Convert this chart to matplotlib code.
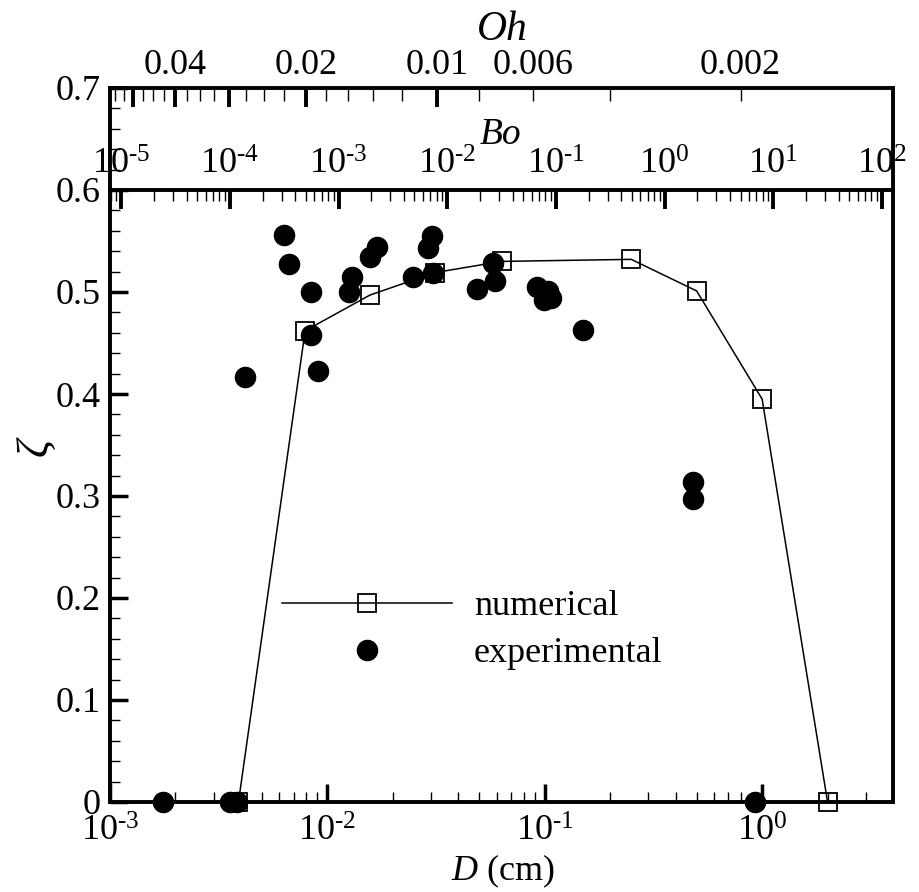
import matplotlib

matplotlib.use("Agg")
import matplotlib.pyplot as plt  # noqa: E402
import numpy as np  # noqa: E402
from matplotlib.ticker import (  # noqa: E402
    FixedFormatter,
    FixedLocator,
    FuncFormatter,
    LogLocator,
    MultipleLocator,
    NullFormatter,
)

plt.rcParams["font.family"] = ["Liberation Serif", "DejaVu Serif"]
plt.rcParams["mathtext.fontset"] = "custom"
plt.rcParams["mathtext.rm"] = "Liberation Serif"
plt.rcParams["mathtext.it"] = "Liberation Serif:italic"

# numerical (squares + line)
d_num = [0.0039, 0.0079, 0.0157, 0.0312, 0.0634, 0.25, 0.5, 1.0, 2.0]
zeta_num = [0.0, 0.462, 0.497, 0.519, 0.530, 0.532, 0.501, 0.395, 0.0]

# experimental (filled circles)
d_exp = [0.00631, 0.00665, 0.00839, 0.00839, 0.00903, 0.00418, 0.0130, 0.0126,
         0.0169, 0.0157, 0.0302, 0.0290, 0.0247, 0.0305, 0.0577, 0.0589, 0.0486,
         0.0918, 0.1033, 0.0990, 0.1066, 0.1497, 0.479, 0.479,
         0.00175, 0.00356, 0.00384, 0.925]
zeta_exp = [0.556, 0.527, 0.500, 0.458, 0.423, 0.417, 0.515, 0.500,
            0.544, 0.534, 0.555, 0.543, 0.515, 0.519, 0.528, 0.511, 0.503,
            0.505, 0.501, 0.492, 0.494, 0.463, 0.314, 0.297,
            0.0, 0.0, 0.0, 0.0]

# D range and the conversions used for the Bo / Oh axes
D_MIN, D_MAX = 1e-3, 4.0
BO_PER_D2 = 7.9        # Bo = k * D^2
OH_SQRT_D = 0.001785   # Oh = c / sqrt(D)

d_major = [1e-3, 1e-2, 1e-1, 1e0]
bo_major = [1e-5, 1e-4, 1e-3, 1e-2, 1e-1, 1e0, 1e1, 1e2]
oh_major = [0.05, 0.04, 0.03, 0.02, 0.01]
oh_major_labels = ["", "0.04", "", "0.02", "0.01"]
oh_minor = [0.055, 0.0525, 0.0475, 0.045, 0.0425, 0.0375, 0.035, 0.0325,
            0.0275, 0.025, 0.0225, 0.018, 0.016, 0.014, 0.012,
            0.008, 0.006, 0.004, 0.002]
oh_minor_labels = ["" if v not in (0.006, 0.002) else f"{v:g}" for v in oh_minor]


def bo(d):
    return BO_PER_D2 * d ** 2


def oh(d):
    return OH_SQRT_D / d ** 0.5


def pow10(v, _):
    # Tecplot-style power label: short hyphen in the exponent
    n = int(round(np.log10(v)))
    if n < 0:
        return r"$10^{\text{-}%d}$" % (-n)
    return r"$10^{%d}$" % n


W, H = 920, 892
fig = plt.figure(figsize=(W / 100, H / 100), dpi=100)
left, right, bottom, top = 110, 893, 802, 88
pos = [left / W, 1 - bottom / H, (right - left) / W, (bottom - top) / H]
ax = fig.add_axes(pos)

ax.plot(d_num, zeta_num, "-", color="black", lw=1.1, marker="s", ms=13,
        mfc="none", mec="black", mew=1.3, label="numerical", clip_on=False, zorder=3)
ax.plot(d_exp, zeta_exp, "o", color="black", ms=14.5, label="experimental",
        clip_on=False, zorder=4)

ax.set_xscale("log")
ax.set_xlim(D_MIN, D_MAX)
ax.set_ylim(0, 0.7)
ax.xaxis.set_major_locator(FixedLocator(d_major))
ax.xaxis.set_minor_locator(LogLocator(base=10, subs=range(2, 10), numticks=20))
ax.xaxis.set_major_formatter(FuncFormatter(pow10))
ax.xaxis.set_minor_formatter(NullFormatter())
ax.yaxis.set_major_locator(MultipleLocator(0.1))
ax.yaxis.set_minor_locator(MultipleLocator(0.02))
ax.yaxis.set_major_formatter(FuncFormatter(lambda v, _: "0" if abs(v) < 1e-9 else f"{v:.1f}"))
ax.tick_params(which="both", direction="in", top=False, right=False, labelsize=26)
ax.tick_params(which="major", length=13, width=2.5, pad=7)
ax.tick_params(which="minor", length=7, width=1)
ax.tick_params(axis="x", which="major", pad=10)
for sp in ax.spines.values():
    sp.set_linewidth(2.8)

# Oh axis along the top spine (0.7)
ax_oh = ax.twiny()
ax_oh.set_xscale("log")
ax_oh.set_xlim(oh(D_MIN), oh(D_MAX))
ax_oh.xaxis.set_major_locator(FixedLocator(oh_major))
ax_oh.xaxis.set_major_formatter(FixedFormatter(oh_major_labels))
ax_oh.xaxis.set_minor_locator(FixedLocator(oh_minor))
ax_oh.xaxis.set_minor_formatter(FixedFormatter(oh_minor_labels))
ax_oh.tick_params(which="both", direction="in", labelsize=26, pad=4)
ax_oh.tick_params(which="major", length=14, width=2.8)
ax_oh.tick_params(which="minor", length=9, width=1)
for sp in ax_oh.spines.values():
    sp.set_visible(False)

# Bo axis drawn as a line at zeta = 0.6
bo_h = pos[3] * 0.6 / 0.7
ax_bo = fig.add_axes([pos[0], pos[1], pos[2], bo_h])
ax_bo.patch.set_visible(False)
ax_bo.set_xscale("log")
ax_bo.set_xlim(bo(D_MIN), bo(D_MAX))
for name, sp in ax_bo.spines.items():
    sp.set_visible(name == "top")
ax_bo.spines["top"].set_linewidth(2.8)
ax_bo.set_yticks([])
ax_bo.xaxis.set_major_locator(FixedLocator(bo_major))
ax_bo.xaxis.set_minor_locator(LogLocator(base=10, subs=range(2, 10), numticks=20))
ax_bo.xaxis.set_major_formatter(FuncFormatter(pow10))
ax_bo.xaxis.set_minor_formatter(NullFormatter())
ax_bo.tick_params(which="both", direction="in", top=True, bottom=False,
                  labeltop=True, labelbottom=False, labelsize=26, pad=6)
ax_bo.tick_params(which="major", length=14, width=2.8)
ax_bo.tick_params(which="minor", length=8, width=1)

ax.legend(loc="upper left", bbox_to_anchor=(0.22, 0.297), frameon=False, fontsize=26,
          handlelength=4.7, handletextpad=0.6, labelspacing=0.38, borderpad=0,
          borderaxespad=0)

fig.text(503 / W, 1 - 871 / H, r"$D$ (cm)", ha="center", va="center", fontsize=26)
fig.text(37 / W, 1 - 447 / H, r"$\zeta$", ha="center", va="center", fontsize=32,
         rotation=90)
fig.text(502 / W, 1 - 30 / H, "Oh", ha="center", va="center", fontsize=30, style="italic")
fig.text(500 / W, 1 - 135 / H, "Bo", ha="center", va="center", fontsize=27, style="italic")

fig.savefig("out.png", dpi=100)
plt.close(fig)
